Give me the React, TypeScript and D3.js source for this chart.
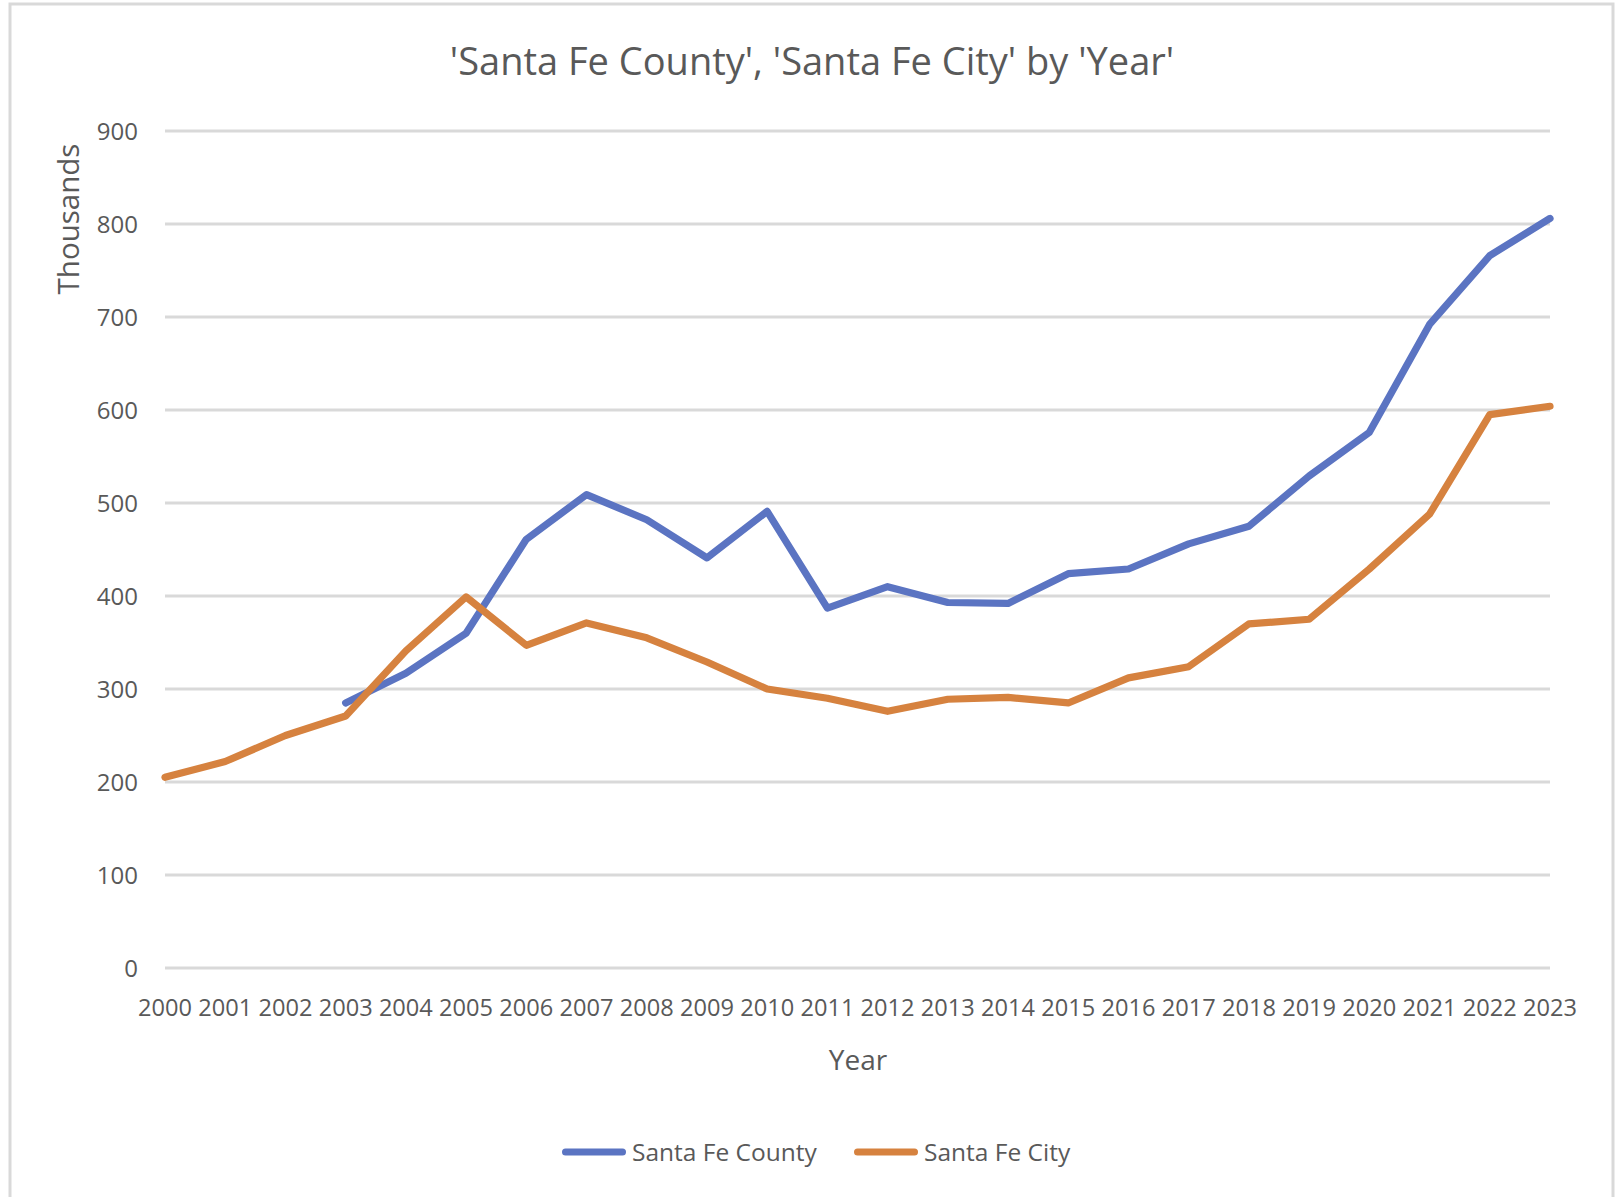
import React from "react";
import * as d3 from "d3";

const years = d3.range(2000, 2024);
const countyValues: (number | null)[] = [
  null, null, null, 285, 317, 360, 461, 509, 482, 441, 491, 387,
  410, 393, 392, 424, 429, 456, 475, 529, 576, 692, 766, 806,
];
const cityValues: number[] = [
  205, 222, 250, 271, 341, 399, 347, 371, 355, 329, 300, 290,
  276, 289, 291, 285, 312, 324, 370, 375, 429, 488, 595, 604,
];
const yTicks = [0, 100, 200, 300, 400, 500, 600, 700, 800, 900];
const seriesNames = ["Santa Fe County", "Santa Fe City"];
const seriesColors = ["#5b74c2", "#d6823f"];
const title = "'Santa Fe County', 'Santa Fe City' by 'Year'";

const W = 1620;
const H = 1197;
const FONT = "'Open Sans', 'Noto Sans', sans-serif";
const TEXT = "#595959";

export default function App() {
  const x = d3.scaleLinear().domain([2000, 2023]).range([165, 1550]);
  const y = d3.scaleLinear().domain([0, 900]).range([968, 131]);

  const line = d3
    .line<number | null>()
    .defined((d) => d !== null)
    .x((_, i) => x(years[i]))
    .y((d) => y(d as number));

  const series = [countyValues, cityValues];
  const legendX = [562, 854];

  return (
    <svg
      width={W}
      height={H}
      style={{ position: "absolute", left: 0, top: 0, background: "#fff" }}
      fontFamily={FONT}
    >
      <rect x={0} y={0} width={W} height={H} fill="#fff" />
      <rect
        x={10}
        y={4}
        width={1603}
        height={H + 20}
        fill="#fff"
        stroke="#d9d9d9"
        strokeWidth={3}
      />
      <text x={812} y={75} textAnchor="middle" fontSize={38} fill={TEXT}>
        {title}
      </text>

      {yTicks.map((t) => (
        <g key={t}>
          <line
            x1={x(2000)}
            x2={x(2023)}
            y1={y(t)}
            y2={y(t)}
            stroke="#d9d9d9"
            strokeWidth={2.8}
          />
          <text
            x={138}
            y={y(t)}
            dy="0.36em"
            textAnchor="end"
            fontSize={24}
            fill={TEXT}
          >
            {t}
          </text>
        </g>
      ))}

      {years.map((yr) => (
        <text
          key={yr}
          x={x(yr)}
          y={1016}
          textAnchor="middle"
          fontSize={23.6}
          fill={TEXT}
        >
          {yr}
        </text>
      ))}

      <text x={858} y={1070} textAnchor="middle" fontSize={28} fill={TEXT}>
        Year
      </text>
      <text
        transform={`translate(79,219) rotate(-90)`}
        textAnchor="middle"
        fontSize={29.5}
        fill={TEXT}
      >
        Thousands
      </text>

      {series.map((s, i) => (
        <path
          key={seriesNames[i]}
          d={line(s) || ""}
          fill="none"
          stroke={seriesColors[i]}
          strokeWidth={7.2}
          strokeLinejoin="round"
          strokeLinecap="round"
        />
      ))}

      {seriesNames.map((n, i) => {
        const lx = legendX[i];
        return (
          <g key={n}>
            <line
              x1={lx + 3.5}
              x2={lx + 60.5}
              y1={1152}
              y2={1152}
              stroke={seriesColors[i]}
              strokeWidth={7}
              strokeLinecap="round"
            />
            <text x={lx + 70} y={1161} fontSize={24.5} fill={TEXT}>
              {n}
            </text>
          </g>
        );
      })}
    </svg>
  );
}
